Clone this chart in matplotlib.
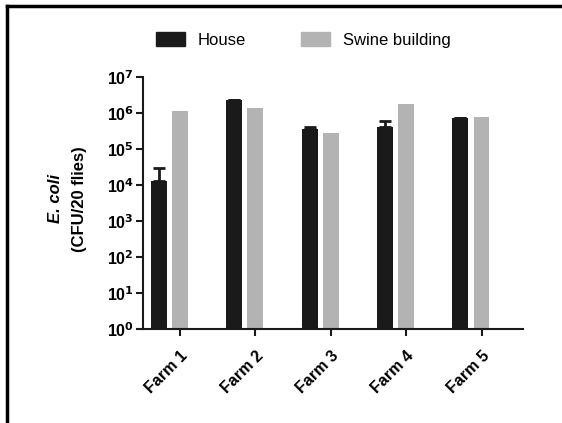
import matplotlib.pyplot as plt
from matplotlib.lines import Line2D
from matplotlib.patches import Patch
import numpy as np

plt.rcParams['font.family'] = ['Liberation Sans', 'DejaVu Sans']
plt.rcParams['mathtext.default'] = 'bf'

farms = ['Farm 1', 'Farm 2', 'Farm 3', 'Farm 4', 'Farm 5']
house = [1.3e4, 2.3e6, 3.7e5, 4.2e5, 7.4e5]
house_err = [1.7e4, 0, 0.5e5, 1.9e5, 0]
swine = [1.15e6, 1.4e6, 2.7e5, 1.8e6, 7.9e5]

fig = plt.figure(figsize=(5.62, 4.23), dpi=100)
fig.patch.set_facecolor('white')
ax = fig.add_axes([0.2544, 0.2222, 0.6762, 0.5958])

x = np.arange(len(farms))
w = 0.21
ax.bar(x - 0.28, house, w, color='#1a1a1a', zorder=2)
ax.bar(x, swine, w, color='#b3b3b3', zorder=2)
ax.errorbar(x - 0.28, house, yerr=[np.zeros(len(house)), house_err], fmt='none',
            ecolor='#1a1a1a', elinewidth=2, capsize=4, capthick=2, zorder=3)

ax.set_yscale('log')
ax.set_ylim(1, 1e7)
ax.set_xlim(-0.49, 4.55)
ax.set_yticks([10.0**k for k in range(8)])
ax.set_yticklabels(['10$^{%d}$' % k for k in range(8)], fontweight='bold', fontsize=11.5)
ax.minorticks_off()
ax.set_xticks(x)
ax.set_xticklabels(farms, rotation=45, ha='right', rotation_mode='anchor',
                   fontweight='bold', fontsize=11.5)
ax.tick_params(axis='both', width=1.5, length=5, color='#1a1a1a', pad=1.5)
ax.tick_params(axis='x', pad=9)
for s in ['top', 'right']:
    ax.spines[s].set_visible(False)
for s in ['left', 'bottom']:
    ax.spines[s].set_linewidth(1.5)
    ax.spines[s].set_color('#1a1a1a')
ax.set_facecolor('none')

fig.text(0.098, 0.53, 'E. coli', rotation=90, ha='center', va='center', fontsize=12,
         fontweight='bold', fontstyle='italic')
fig.text(0.142, 0.53, '(CFU/20 flies)', rotation=90, ha='center', va='center',
         fontsize=12, fontweight='bold')

handles = [Patch(color='#1a1a1a', label='House'),
           Patch(color='#b3b3b3', label='Swine building')]
fig.legend(handles=handles, loc='center', bbox_to_anchor=(0.54, 0.905), ncol=2,
           frameon=False, fontsize=12, handlelength=1.7, handleheight=0.9,
           columnspacing=3.3, handletextpad=0.8)

# frame lines on the left and top
fig.add_artist(Line2D([0.0125, 0.0125], [0, 0.986], color='black', lw=2.5))
fig.add_artist(Line2D([0.0125, 1], [0.986, 0.986], color='black', lw=2.5))

fig.savefig('out.png', dpi=100)
